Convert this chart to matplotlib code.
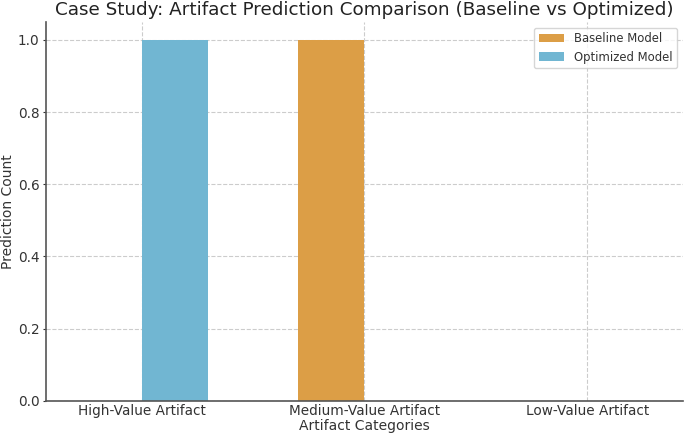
import matplotlib
matplotlib.use("Agg")
import matplotlib.pyplot as plt
import numpy as np

categories = ["High-Value Artifact", "Medium-Value Artifact", "Low-Value Artifact"]
baseline = [0, 1, 0]
optimized = [1, 0, 0]

fig = plt.figure(figsize=(6.85, 4.38), dpi=100)
ax = fig.add_axes([0.067, 0.085, 0.930, 0.865])
x = np.arange(len(categories))
w = 0.3
ax.bar(x - w/2, baseline, w, color="#DC9E46", label="Baseline Model")
ax.bar(x + w/2, optimized, w, color="#71B6D2", label="Optimized Model")
ax.set_xticks(x)
ax.set_xticklabels(categories)
ax.set_xlabel("Artifact Categories", fontsize=10, color="#333333", labelpad=1)
ax.set_ylabel("Prediction Count", fontsize=10, color="#333333", labelpad=2)
ax.set_title("Case Study: Artifact Prediction Comparison (Baseline vs Optimized)",
             fontsize=13.2, color="#222222", pad=5)
ax.grid(True, linestyle="--", color="#cccccc", linewidth=0.8)
ax.set_axisbelow(True)
for s in ["top", "right"]:
    ax.spines[s].set_visible(False)
for s in ["left", "bottom"]:
    ax.spines[s].set_color("#555555")
    ax.spines[s].set_linewidth(1.2)
ax.tick_params(colors="#333333", labelsize=9.8, length=2.5, pad=2)
ax.tick_params(axis="x", length=0, pad=2)
leg = ax.legend(loc="upper right", fontsize=8.4, labelcolor="#333333",
                handlelength=2.2, labelspacing=0.45)
fig.savefig("out.png", dpi=100)
